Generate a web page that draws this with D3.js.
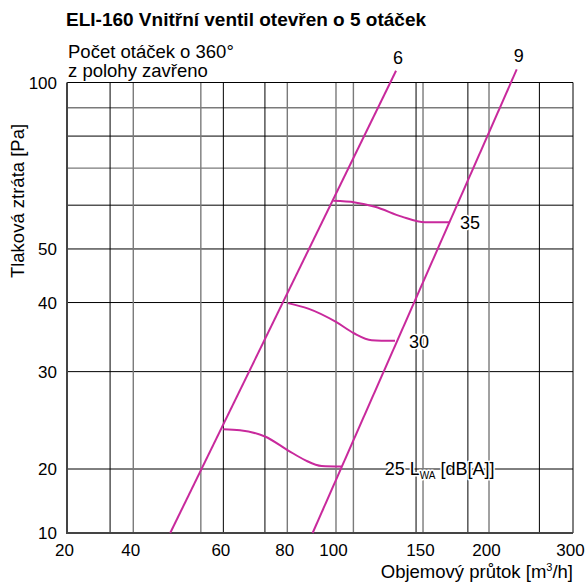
<!DOCTYPE html>
<html>
<head>
<meta charset="utf-8">
<script src="https://cdn.jsdelivr.net/npm/d3@7"></script>
<style>
  body { margin: 0; background: #fff; }
  svg text { font-family: "Liberation Sans", Arial, sans-serif; fill: #000; }
</style>
</head>
<body>
<div id="chart"></div>
<script>
//Datos del gráfico
const xTicks = [20, 40, 60, 80, 100, 150, 200, 300];
const xMinorGrid = [33, 55, 73, 110, 146, 184, 260];
const yTicks = [10, 20, 30, 40, 50, 100];
const yGrid = [20, 30, 40, 50, 60, 70, 80, 90, 100];

//Rectas de apertura (6 y 9 vueltas)
const turnNames = ['6', '9'];
const turn6 = [[48.2, 10], [134.5, 105.0]];
const turn9 = [[90.4, 10], [233.0, 105.6]];

//Curvas de ruido LwA
const noiseNames = ['25', '30', '35'];
const noise25 = [[60, 23.6], [65.2, 23.5], [73.0, 22.9], [80.4, 21.6], [87.3, 20.75], [94.1, 20.25], [103.3, 20.2]];
const noise30 = [[80.2, 39.9], [88.6, 39.0], [100, 36.9], [110.3, 35.2], [120.5, 34.2], [133.9, 34.1]];
const noise35 = [[98.9, 61.1], [110.9, 60.7], [122.4, 59.6], [137.8, 57.2], [151.5, 55.9], [170.5, 55.9]];

const MAGENTA = '#c8299c';
const GRID_DARK = '#000';
const GRID_GRAY = '#7a7a7a';

let W = 587, H = 583;
let margin = {left: 67, right: 573, top: 82.5, bottom: 533};

let svg = d3.select('#chart').append('svg')
    .attr('width', W)
    .attr('height', H);

//Escalas (eje X irregular por tramos, eje Y logarítmico con corte abajo)
let xStops = [0, 0.131, 0.309, 0.4354, 0.5316, 0.7036, 0.834, 1];
let x = d3.scaleLinear()
    .domain(xTicks)
    .range(xStops.map(function(f) { return margin.left + f * (margin.right - margin.left); }));

let y = d3.scaleLog()
    .domain([10, 20, 100])
    .range([margin.bottom, 469, margin.top]);

//Rejilla
let grayX = [40, 55, 80, 100, 110, 150, 200];
let grayY = [70, 90];
let vLines = xTicks.concat(xMinorGrid).filter(function(d) { return d != 20 && d != 300; });

svg.append('g').selectAll('line')
    .data(yGrid.filter(function(d) { return d != 100; }))
    .enter().append('line')
    .attr('x1', margin.left).attr('x2', margin.right)
    .attr('y1', function(d) { return y(d); })
    .attr('y2', function(d) { return y(d); })
    .attr('stroke', function(d) { return grayY.indexOf(d) >= 0 ? GRID_GRAY : GRID_DARK; })
    .attr('stroke-width', function(d) { return grayY.indexOf(d) >= 0 ? 1.4 : 1; });

svg.append('g').selectAll('line')
    .data(vLines)
    .enter().append('line')
    .attr('x1', function(d) { return x(d); })
    .attr('x2', function(d) { return x(d); })
    .attr('y1', margin.top).attr('y2', margin.bottom)
    .attr('stroke', function(d) { return grayX.indexOf(d) >= 0 ? GRID_GRAY : GRID_DARK; })
    .attr('stroke-width', function(d) { return grayX.indexOf(d) >= 0 ? 1.4 : 1; });

//Marco
svg.append('line').attr('x1', margin.left).attr('x2', margin.right).attr('y1', margin.top).attr('y2', margin.top)
    .attr('stroke', '#000').attr('stroke-width', 1);
svg.append('line').attr('x1', margin.right).attr('x2', margin.right).attr('y1', margin.top).attr('y2', margin.bottom)
    .attr('stroke', '#000').attr('stroke-width', 1);
svg.append('line').attr('x1', margin.left).attr('x2', margin.left).attr('y1', margin.top).attr('y2', margin.bottom + 1)
    .attr('stroke', '#444').attr('stroke-width', 2);
svg.append('line').attr('x1', margin.left - 1).attr('x2', margin.right).attr('y1', margin.bottom).attr('y2', margin.bottom)
    .attr('stroke', '#444').attr('stroke-width', 2);

//Etiquetas de ejes
svg.append('g').selectAll('text')
    .data(xTicks)
    .enter().append('text')
    .attr('x', function(d) { return x(d) - 2.5; })
    .attr('y', 556)
    .attr('text-anchor', 'middle')
    .style('font-size', '17px')
    .text(function(d) { return d; });

svg.append('g').selectAll('text')
    .data(yTicks)
    .enter().append('text')
    .attr('x', 57)
    .attr('y', function(d) { return y(d); })
    .attr('dy', '0.36em')
    .attr('text-anchor', 'end')
    .style('font-size', '17px')
    .text(function(d) { return d; });

svg.append('text')
    .attr('x', margin.right)
    .attr('y', 578)
    .attr('text-anchor', 'end')
    .style('font-size', '18.5px')
    .html('Objemový průtok [m<tspan dy="-7" style="font-size:11px">3</tspan><tspan dy="7">/h]</tspan>');

svg.append('text')
    .attr('transform', 'translate(24,' + 201 + ') rotate(-90)')
    .attr('text-anchor', 'middle')
    .style('font-size', '18.5px')
    .text('Tlaková ztráta [Pa]');

//Títulos
svg.append('text')
    .attr('x', 66).attr('y', 26)
    .style('font-size', '19px')
    .style('font-weight', '700')
    .text('ELI-160 Vnitřní ventil otevřen o 5 otáček');

svg.append('text')
    .attr('x', 68).attr('y', 58)
    .style('font-size', '18.5px')
    .text('Počet otáček o 360°');
svg.append('text')
    .attr('x', 68).attr('y', 77)
    .style('font-size', '18.5px')
    .text('z polohy zavřeno');

//Líneas
let straight = d3.line()
    .x(function(d) { return x(d[0]); })
    .y(function(d) { return y(d[1]); });

let smooth = d3.line()
    .x(function(d) { return x(d[0]); })
    .y(function(d) { return y(d[1]); })
    .curve(d3.curveMonotoneX);

[noise25, noise30, noise35].forEach(function(c) {
    svg.append('path')
        .attr('d', smooth(c))
        .attr('fill', 'none')
        .attr('stroke', MAGENTA)
        .attr('stroke-width', 2);
});

[turn6, turn9].forEach(function(c, i) {
    svg.append('path')
        .attr('d', straight(c))
        .attr('fill', 'none')
        .attr('stroke', MAGENTA)
        .attr('stroke-width', 2);

    let end = c[c.length - 1];
    svg.append('text')
        .attr('x', x(end[0]) + 2)
        .attr('y', y(end[1]) - 7)
        .attr('text-anchor', 'middle')
        .style('font-size', '18px')
        .text(turnNames[i]);
});

//Etiquetas de ruido con halo blanco
let halo = function(sel) {
    sel.attr('stroke', '#fff')
        .attr('stroke-width', 3)
        .attr('paint-order', 'stroke')
        .attr('stroke-linejoin', 'round');
};

let e30 = noise30[noise30.length - 1], e35 = noise35[noise35.length - 1], e25 = noise25[noise25.length - 1];

svg.append('text')
    .attr('x', x(e35[0]) + 10).attr('y', y(e35[1]))
    .attr('dy', '0.36em')
    .style('font-size', '18px')
    .call(halo)
    .text(noiseNames[2]);

svg.append('text')
    .attr('x', x(e30[0]) + 14).attr('y', y(e30[1]) + 1)
    .attr('dy', '0.36em')
    .style('font-size', '18px')
    .call(halo)
    .text(noiseNames[1]);

svg.append('text')
    .attr('x', x(e25[0]) + 43).attr('y', y(20))
    .attr('dy', '0.36em')
    .style('font-size', '18px')
    .call(halo)
    .html(noiseNames[0] + ' L<tspan dy="4" style="font-size:10px">WA</tspan><tspan dy="-4"> [dB[A]]</tspan>');
</script>
</body>
</html>
